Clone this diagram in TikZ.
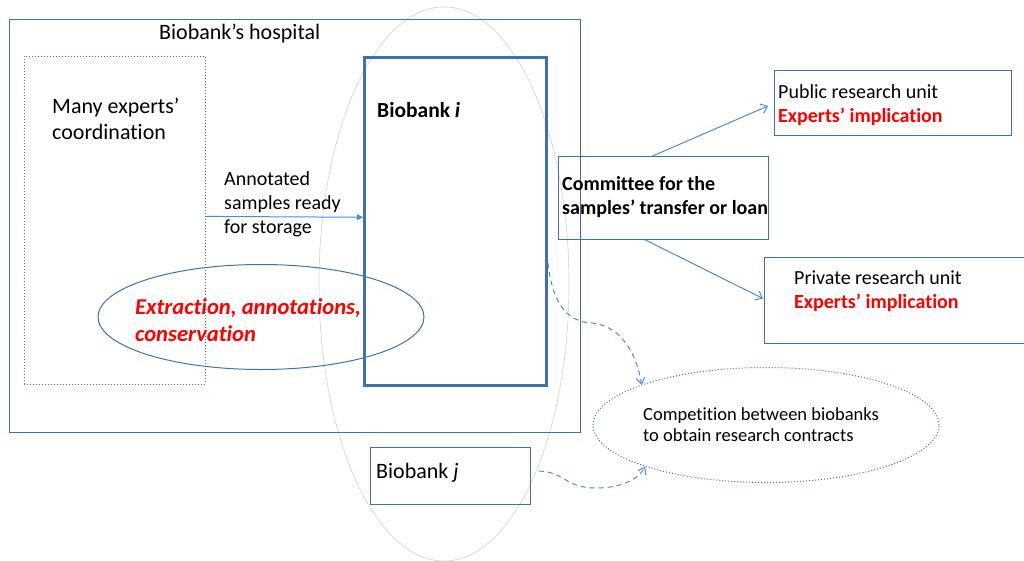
\documentclass[tikz,border=0pt]{standalone}
\usepackage{fontspec}
\setmainfont{Carlito}[Ligatures=NoCommon]
\usetikzlibrary{positioning}
\usetikzlibrary{shapes.geometric}
\usetikzlibrary{arrows.meta}
\definecolor{boxblue}{RGB}{65,113,170}
\definecolor{linkblue}{RGB}{84,138,204}
\definecolor{ringgray}{RGB}{215,215,215}

\begin{document}
\begin{tikzpicture}[x=1pt,y=-1pt,
 box/.style={draw=boxblue,line width=1pt,inner sep=0pt,anchor=north west},
 txt/.style={anchor=base west,inner sep=0pt,align=left,font=\fontsize{20}{24}\selectfont},
 feed/.style={draw=linkblue,line width=1pt,-{Triangle[length=6pt,width=6pt]}},
 link/.style={draw=linkblue,line width=1pt,-{Straight Barb[length=6pt,width=10pt]}},
 hint/.style={draw=linkblue,line width=1pt,dash pattern=on 5pt off 4pt,-{Straight Barb[length=6pt,width=9pt]}}]
 \useasboundingbox (0,0) rectangle (1024,560);
 \node[draw=ringgray,ellipse,line width=0.7pt,inner sep=0pt,minimum width=250pt,minimum height=554pt] (ring) at (444,284) {};
 \node[box,minimum width=571pt,minimum height=413pt] (hosp) at (9,19) {};
 \node[box,dotted,line width=0.8pt,minimum width=181pt,minimum height=328pt] (exp) at (24,56) {};
 \node[box,line width=2.5pt,minimum width=182pt,minimum height=328pt] (bbi) at (363,56) {};
 \node[draw=boxblue,ellipse,line width=1pt,inner sep=0pt,minimum width=326pt,minimum height=105pt] (extr) at (261,317) {};
 \node[box,minimum width=210pt,minimum height=83pt] (comm) at (558,156) {};
 \node[box,minimum width=237pt,minimum height=65pt] (pub) at (774,70) {};
 \node[box,minimum width=280pt,minimum height=86pt] (priv) at (764,257) {};
 \node[draw=boxblue,dotted,ellipse,line width=1pt,inner sep=0pt,minimum width=346pt,minimum height=115pt] (comp) at (766,425) {};
 \node[box,minimum width=160pt,minimum height=57pt] (bbj) at (370,447) {};

 % texts, placed at the baseline of their last line
 \node[txt,font=\fontsize{22}{26}\selectfont] (hosptxt) at (159,39) {Biobank’s hospital};
 \node[txt,font=\fontsize{22}{26}\selectfont] (exptxt) at (52,139) {Many experts’\\coordination};
 \node[txt,font=\fontsize{20}{24}\selectfont] (feedtxt) at (224,233) {Annotated\\samples ready\\for storage};
 \node[txt,font=\bfseries\fontsize{21.5}{24}\selectfont] (bbitxt) at (377,117) {Biobank \textit{i}};
 \node[txt,text=red,font=\bfseries\itshape\fontsize{22.6}{27}\selectfont] (extrtxt) at (135,341) {Extraction, annotations,\\conservation};
 \node[txt,font=\bfseries\fontsize{20}{24}\selectfont] (commtxt) at (562,214) {Committee for the\\samples’ transfer or loan};
 \node[txt] (pubtxt) at (778,122) {Public research unit\\\textcolor{red}{\textbf{Experts’ implication}}};
 \node[txt] (privtxt) at (794,308) {Private research unit\\\textcolor{red}{\textbf{Experts’ implication}}};
 \node[txt,font=\fontsize{18.5}{21}\selectfont] (comptxt) at (643,441) {Competition between biobanks\\to obtain research contracts};
 \node[txt,font=\fontsize{22}{26}\selectfont] (bbjtxt) at (376,478) {Biobank \textit{j}};

 \draw[feed] ([yshift=4pt]exp.east) -- ([yshift=4pt]bbi.west);
 \draw[link] ([xshift=-11pt]comm.north) -- ([xshift=-6pt,yshift=-3pt]pub.west);
 \draw[link] ([xshift=-18pt]comm.south) -- ([xshift=-1pt,yshift=2pt]priv.west);
 \coordinate (iout) at (548,263);
 \coordinate (jout) at (539,471);
 \draw[hint] (iout) .. controls (552,300) and (565,322) .. (592,323) .. controls (615,325) and (635,345) .. (comp.162);
 \draw[hint] (jout) .. controls (565,472) and (565,488) .. (596,488) .. controls (620,488) and (638,480) .. (comp.199);
\end{tikzpicture}
\end{document}
